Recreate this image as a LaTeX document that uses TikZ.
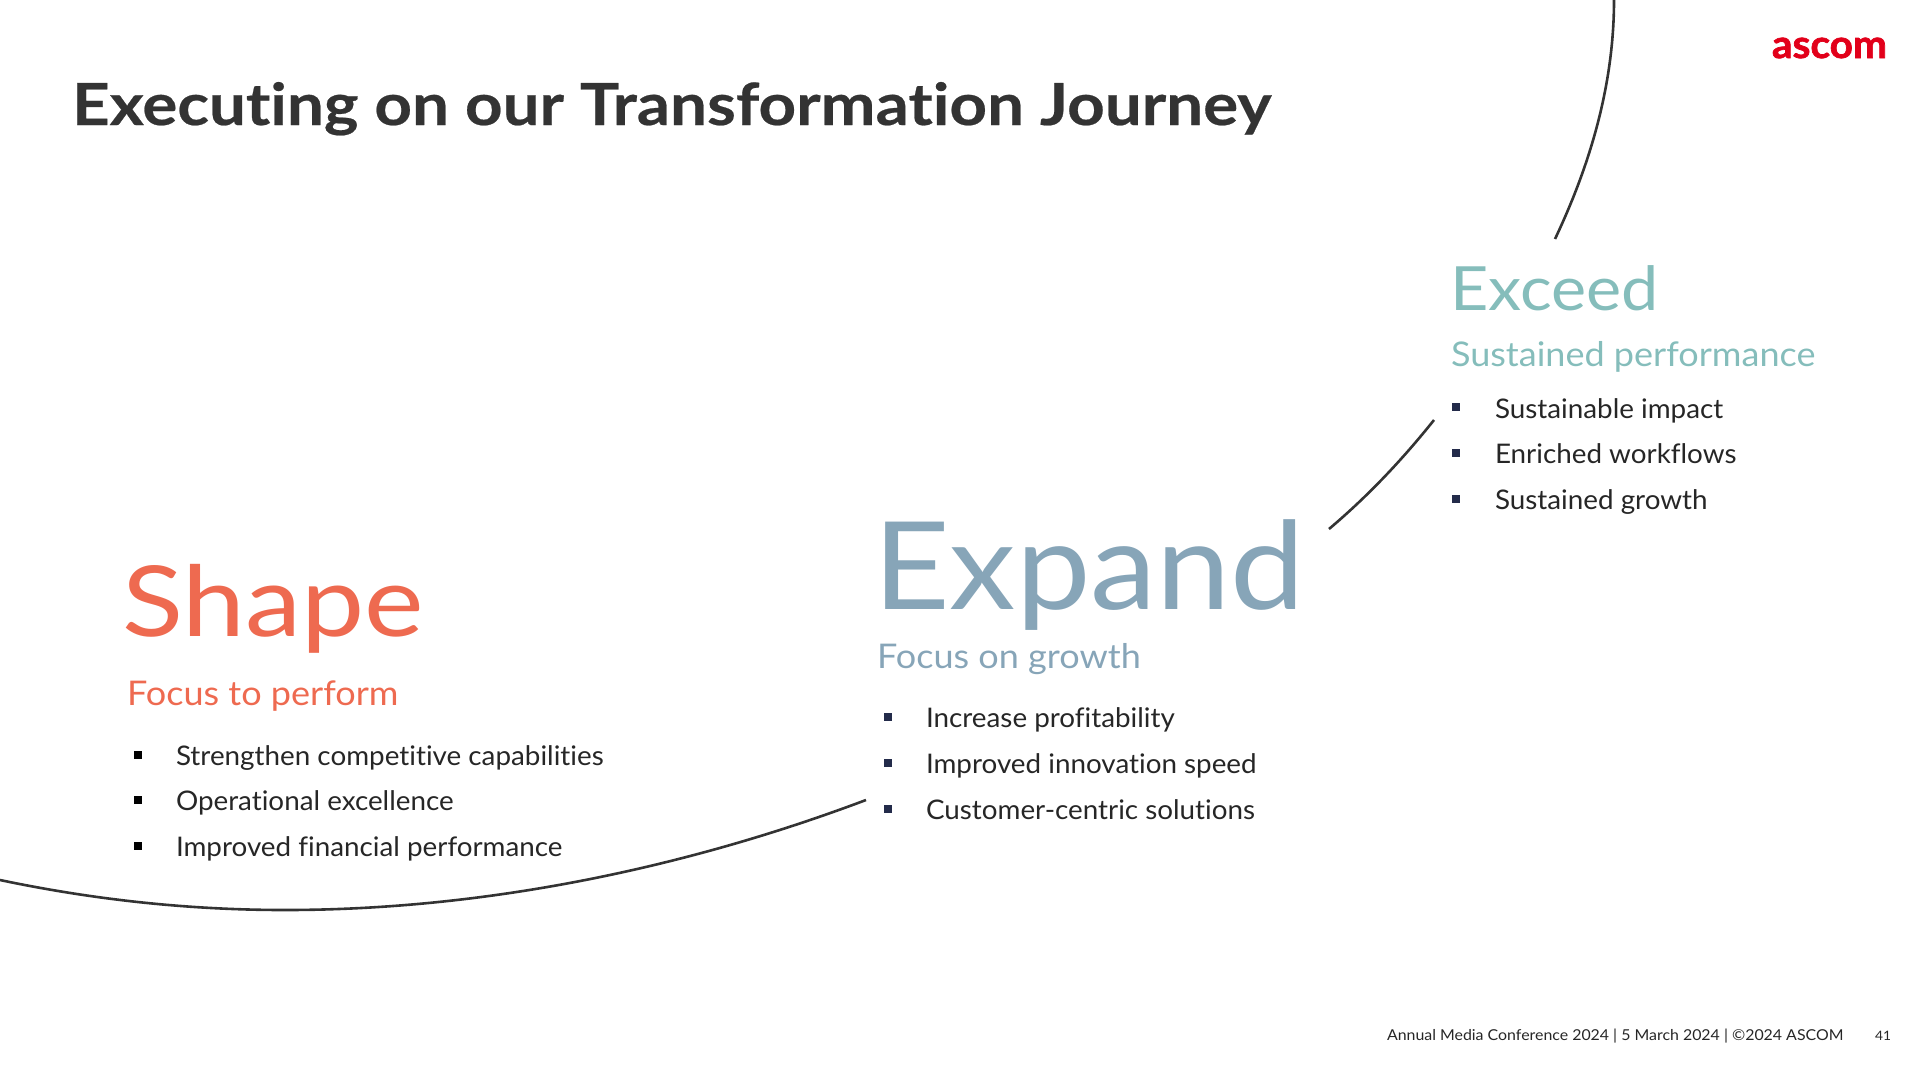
\documentclass[tikz,border=0pt]{standalone}
\usepackage{fontspec}
\setmainfont[Ligatures=CommonOff]{Lato}
\newfontfamily\bodyfont[FakeStretch=1.03, Ligatures=CommonOff]{Lato}
\newfontfamily\subfont[FakeStretch=1.06, Ligatures=CommonOff]{Lato}
\newfontfamily\headfont[FakeStretch=1.09, Ligatures=CommonOff]{Lato}
\newfontfamily\shapefont[FakeStretch=1.15, Ligatures=CommonOff]{Lato}
\newfontfamily\titlefont[FakeStretch=1.13, FakeBold=0.4, Ligatures=CommonOff]{Lato Bold}
\newfontfamily\logofont[FakeStretch=1.04, FakeBold=1.8, Ligatures=CommonOff]{Lato Bold}
\usetikzlibrary{positioning}
\definecolor{shapered}{HTML}{EE6A50}
\definecolor{expandblue}{HTML}{87A5B8}
\definecolor{exceedteal}{HTML}{85BDBB}
\definecolor{bodydark}{HTML}{262626}
\definecolor{titledark}{HTML}{333333}
\definecolor{bulletnavy}{HTML}{232B4A}
\definecolor{logored}{HTML}{E2001A}
\begin{document}
\begin{tikzpicture}[
    x=1pt, y=-1pt,
    every node/.style={inner sep=0pt, outer sep=0pt, anchor=base west},
    title/.style={font=\titlefont\fontsize{58}{58}\selectfont, text=titledark},
    head/.style={font=\headfont\fontsize{#1}{#1}\selectfont},
    sub/.style={font=\subfont\fontsize{34}{34}\selectfont},
    item/.style={font=\bodyfont\fontsize{27}{27}\selectfont, text=bodydark},
    bullet/.style={rectangle, fill=bulletnavy, minimum size=8.5pt, anchor=center},
    curve/.style={line width=2.6pt, draw=titledark},
    foot/.style={font=\subfont\fontsize{15}{15}\selectfont, text=bodydark}
]
    \useasboundingbox (0,0) rectangle (1920,1080);

    \node[title] (titletext) at (72,125) {Executing on our Transformation Journey};
    \node[font=\logofont\fontsize{39}{39}\selectfont, text=logored] (logo) at (1772,58) {ascom};

    % shape
    \node[font=\shapefont\fontsize{98}{98}\selectfont, text=shapered] (shapehead) at (122,636) {Shape};
    \node[sub, text=shapered] (shapesub) at (127,705) {Focus to perform};
    \node[item] (shapea) at (176,765) {Strengthen competitive capabilities};
    \node[item] (shapeb) at (176,810) {Operational excellence};
    \node[item] (shapec) at (176,856) {Improved financial performance};
    \node[bullet, fill=black] (shapedota) at (138,755) {};
    \node[bullet, fill=black] (shapedotb) at (138,800) {};
    \node[bullet, fill=black] (shapedotc) at (138,846) {};

    % expand
    \node[head=122, text=expandblue] (expandhead) at (873,609) {Expand};
    \node[sub, text=expandblue] (expandsub) at (877,668) {Focus on growth};
    \node[item] (expanda) at (926,727) {Increase profitability};
    \node[item] (expandb) at (926,773) {Improved innovation speed};
    \node[item] (expandc) at (926,819) {Customer-centric solutions};
    \node[bullet] (expanddota) at (888,717) {};
    \node[bullet] (expanddotb) at (888,763) {};
    \node[bullet] (expanddotc) at (888,809) {};

    % exceed
    \node[head=61, text=exceedteal] (exceedhead) at (1450,310) {Exceed};
    \node[sub, text=exceedteal] (exceedsub) at (1451,366) {Sustained performance};
    \node[item] (exceeda) at (1495,418) {Sustainable impact};
    \node[item] (exceedb) at (1495,463) {Enriched workflows};
    \node[item] (exceedc) at (1495,509) {Sustained growth};
    \node[bullet] (exceeddota) at (1456,407) {};
    \node[bullet] (exceeddotb) at (1456,453) {};
    \node[bullet] (exceeddotc) at (1456,499) {};

    % spiral pieces
    \coordinate (lowstart) at (0,880);
    \coordinate (lowmid) at (285,910);
    \coordinate (lowend) at (866,800);
    \coordinate (midstart) at (1329,529);
    \coordinate (midend) at (1434,420);
    \coordinate (topstart) at (1555,239);
    \coordinate (topend) at (1614,0);
    \draw[curve] (lowstart) .. controls (95,900) and (190,910) .. (lowmid)
        .. controls (480,910) and (680,870) .. (lowend);
    \draw[curve] (midstart) .. controls (1368,496) and (1402,460) .. (midend);
    \draw[curve] (topstart) .. controls (1590,165) and (1614,85) .. (topend);

    \node[foot] (footer) at (1387,1040) {Annual Media Conference 2024 | 5 March 2024 | ©2024 ASCOM};
    \node[foot, font=\subfont\fontsize{13}{13}\selectfont] (pagenum) at (1875,1040) {41};
\end{tikzpicture}
\end{document}
